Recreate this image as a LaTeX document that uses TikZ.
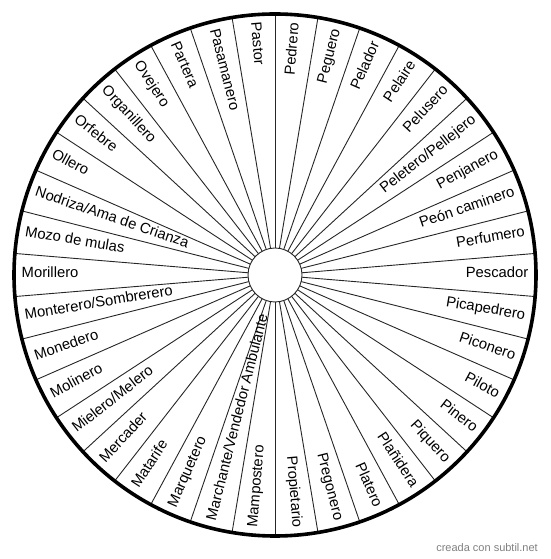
\documentclass[tikz,border=0pt]{standalone}
\usepackage{fontspec}
\setmainfont{Liberation Sans}
\begin{document}
\begin{tikzpicture}[x=1pt,y=1pt,
  spoke/.style={line width=0.9pt, draw=black!85},
  rim/.style={line width=3.6pt, draw=black},
  hub/.style={circle, line width=0.9pt, draw=black!85, fill=white, minimum size=54pt, inner sep=0pt},
  lbl/.style={inner sep=0pt, font=\fontsize{14.8}{17}\selectfont, text=black},
  wm/.style={inner sep=0pt, font=\fontsize{11}{13}\selectfont, text=black!50}]
\useasboundingbox (0,0) rectangle (550,559);
\coordinate (c) at (275,284);
\begin{scope}[shift={(c)}]
  \foreach \k in {0,...,37}{
    \pgfmathsetmacro\ang{90-\k*360/38}
    \coordinate (o\k) at (\ang:261);
    \draw[spoke] (0,0) -- (o\k);
  }
  \node[hub] (hub) at (0,0) {};
  \draw[rim] (0,0) circle[radius=261];
  \foreach \t [count=\i] in {Pedrero,Peguero,Pelador,Pelaire,Pelusero,Peletero/Pellejero,Penjanero,Peón caminero,Perfumero,Pescador,Picapedrero,Piconero,Piloto,Pinero,Piquero,Plañidera,Platero,Pregonero,Propietario,Mampostero,Marchante/Vendedor Ambulante,Marquetero,Matarife,Mercader,Mielero/Melero,Molinero,Monedero,Monterero/Sombrerero,Morillero,Mozo de mulas,Nodriza/Ama de Crianza,Ollero,Orfebre,Organillero,Ovejero,Partera,Pasamanero,Pastor}{
    \pgfmathsetmacro\ang{90-(\i-0.5)*360/38}
    \ifnum\i<20
      \node[lbl, rotate=\ang, anchor=base east] (l\i) at ([shift={(\ang-90:3)}]\ang:253.5) {\t};
    \else
      \node[lbl, rotate=\ang-180, anchor=base west] (l\i) at ([shift={(\ang+90:3)}]\ang:253.5) {\t};
    \fi
  }
\end{scope}
\node[wm, anchor=base east] (wm) at (538,7) {creada con subtil.net};
\end{tikzpicture}
\end{document}
